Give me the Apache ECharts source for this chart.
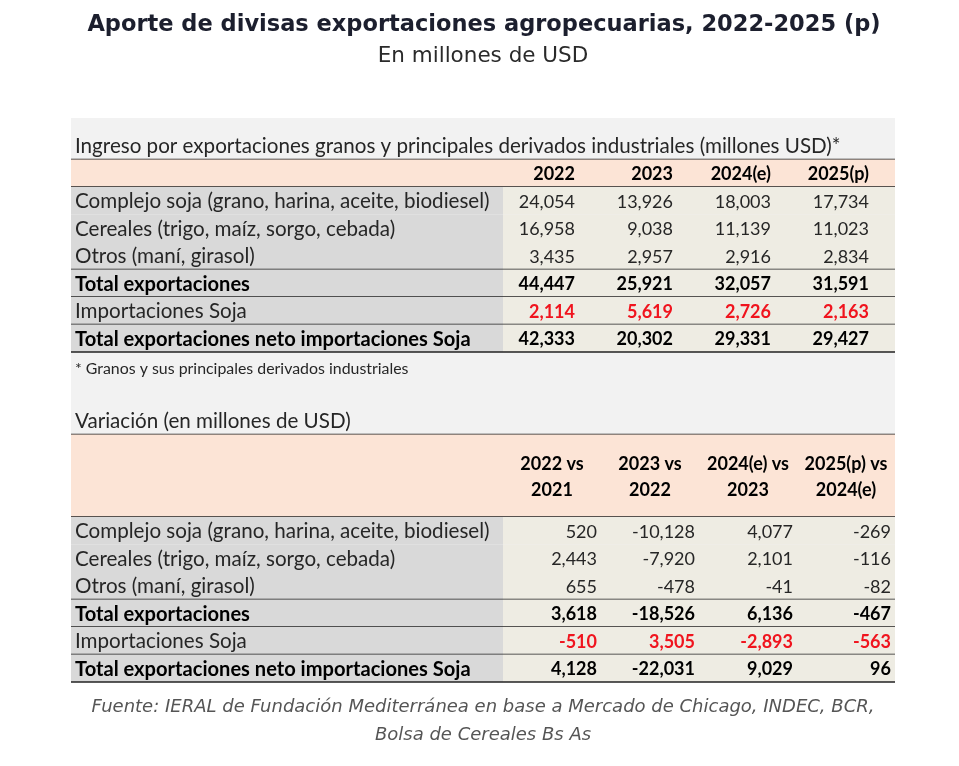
<!DOCTYPE html>
<html><head><meta charset="utf-8">
<script src="https://cdn.jsdelivr.net/npm/echarts@6/dist/echarts.min.js"></script>
<style>html,body{margin:0;padding:0;background:#fff}#c{width:959px;height:766px}</style>
</head><body><div id="c"></div>
<script>
// ---------- DATA ----------
const rowLabels = [
  'Complejo soja (grano, harina, aceite, biodiesel)',
  'Cereales (trigo, maíz, sorgo, cebada)',
  'Otros (maní, girasol)',
  'Total exportaciones',
  'Importaciones Soja',
  'Total exportaciones neto importaciones Soja'
];
const yearHeaders = ['2022', '2023', '2024(e)', '2025(p)'];
const expSoja     = [24054, 13926, 18003, 17734];
const expCereales = [16958, 9038, 11139, 11023];
const expOtros    = [3435, 2957, 2916, 2834];
const expTotal    = [44447, 25921, 32057, 31591];
const impSoja     = [2114, 5619, 2726, 2163];
const expNeto     = [42333, 20302, 29331, 29427];

const varHeadersTop = ['2022 vs', '2023 vs', '2024(e) vs', '2025(p) vs'];
const varHeadersBot = ['2021', '2022', '2023', '2024(e)'];
const varSoja     = [520, -10128, 4077, -269];
const varCereales = [2443, -7920, 2101, -116];
const varOtros    = [655, -478, -41, -82];
const varTotal    = [3618, -18526, 6136, -467];
const varImp      = [-510, 3505, -2893, -563];
const varNeto     = [4128, -22031, 9029, 96];

const titleText = 'Aporte de divisas exportaciones agropecuarias, 2022-2025 (p)';
const subtitleText = 'En millones de USD';
const table1Heading = 'Ingreso por exportaciones granos y principales derivados industriales (millones USD)*';
const footnoteText = '* Granos y sus principales derivados industriales';
const table2Heading = 'Variación (en millones de USD)';
const sourceText = 'Fuente: IERAL de Fundación Mediterránea en base a Mercado de Chicago, INDEC, BCR,\nBolsa de Cereales Bs As';

const table1Values = [expSoja, expCereales, expOtros, expTotal, impSoja, expNeto];
const table2Values = [varSoja, varCereales, varOtros, varTotal, varImp, varNeto];

// ---------- LAYOUT / STYLE ----------
const labelStyles = ['normal', 'normal', 'normal', 'bold', 'normal', 'bold'];
const valueStyles = ['normal', 'normal', 'normal', 'bold', 'red', 'bold'];
const lineBelow = [false, false, true, true, true, true];
const SLOT = { t1Head: 0, t1Hdr: 1, t1Body: 2, foot: 8, t2Head: 10, t2Hdr: 11, t2Body: 14 };
const NSLOTS = 20;
const C = {
  peach: '#fce4d6', labelBg: '#d9d9d9', valueBg: '#eeece3', line: '#222222',
  text: '#262626', bold: '#000000', red: '#f0141e'
};
const FONT = 'Lato';
const LABEL_SIZE = 20.6;
const LABEL_BOLD_SIZE = 20.1;
const VALUE_SIZE = 18;
const fmt = v => v.toLocaleString('en-US');

// ---------- CELLS ----------
const labelCells = [];
labelCells.push({ row: SLOT.t1Head, span: 1, text: table1Heading, kind: 'heading', line: true });
labelCells.push({ row: SLOT.t1Hdr, span: 1, text: '', kind: 'hdr', line: true });
rowLabels.forEach((l, i) => labelCells.push({ row: SLOT.t1Body + i, span: 1, text: l, kind: labelStyles[i], line: lineBelow[i], bg: C.labelBg }));
labelCells.push({ row: SLOT.foot, span: 1, text: footnoteText, kind: 'foot', line: false });
labelCells.push({ row: SLOT.t2Head, span: 1, text: table2Heading, kind: 'heading', line: true });
labelCells.push({ row: SLOT.t2Hdr, span: 3, text: '', kind: 'hdr', line: true });
rowLabels.forEach((l, i) => labelCells.push({ row: SLOT.t2Body + i, span: 1, text: l, kind: labelStyles[i], line: lineBelow[i], bg: C.labelBg }));

const valueCells = [];
yearHeaders.forEach((h, c) => {
  valueCells.push({ col: c, row: SLOT.t1Head, span: 1, text: '', kind: 'heading', line: true });
  valueCells.push({ col: c, row: SLOT.t1Hdr, span: 1, text: h, kind: 'hdrText', pad: 26, line: true });
  valueCells.push({ col: c, row: SLOT.t2Head, span: 1, text: '', kind: 'heading', line: true });
  valueCells.push({ col: c, row: SLOT.t2Hdr, span: 3, text: varHeadersTop[c] + '\n' + varHeadersBot[c], kind: 'hdr2', line: true });
});
table1Values.forEach((vals, r) => vals.forEach((v, c) =>
  valueCells.push({ col: c, row: SLOT.t1Body + r, span: 1, text: fmt(v), kind: valueStyles[r], pad: 26, line: lineBelow[r], bg: C.valueBg })));
table2Values.forEach((vals, r) => vals.forEach((v, c) =>
  valueCells.push({ col: c, row: SLOT.t2Body + r, span: 1, text: fmt(v), kind: valueStyles[r], pad: 4, line: lineBelow[r], bg: C.valueBg })));

function textStyleFor(kind, isLabel) {
  const fs = isLabel ? LABEL_SIZE : VALUE_SIZE;
  const fb = isLabel ? LABEL_BOLD_SIZE : VALUE_SIZE;
  switch (kind) {
    case 'bold': return { fontWeight: 'bold', fill: C.bold, fontSize: fb };
    case 'red': return { fontWeight: 'bold', fill: C.red, fontSize: fb };
    case 'hdrText': return { fontWeight: 'bold', fill: C.bold, fontSize: fb };
    case 'hdr2': return { fontWeight: 'bold', fill: C.bold, fontSize: fb, lineHeight: 26 };
    case 'foot': return { fontWeight: 'normal', fill: C.text, fontSize: 15.9 };
    default: return { fontWeight: 'normal', fill: C.text, fontSize: fs };
  }
}

function makeRender(cells, isLabel) {
  return function (params, api) {
    const cell = cells[params.dataIndex];
    const col = api.value(0), row = api.value(1);
    const center = api.coord([col, row]);
    const size = api.size([1, 1]);
    const w = size[0], rh = size[1];
    const x0 = center[0] - w / 2;
    const y0 = center[1] - rh / 2;
    const h = rh * cell.span;
    const children = [];
    let bg = cell.bg;
    if (cell.kind === 'hdr' || cell.kind === 'hdrText' || cell.kind === 'hdr2') bg = C.peach;
    if (bg) children.push({ type: 'rect', shape: { x: x0, y: y0, width: w, height: h }, style: { fill: bg } });
    if (cell.text) {
      const ts = textStyleFor(cell.kind, isLabel);
      let tx, align;
      if (isLabel) { tx = x0 + 4; align = 'left'; }
      else if (cell.kind === 'hdr2') { tx = x0 + w / 2; align = 'center'; }
      else { tx = x0 + w - cell.pad; align = 'right'; }
      let ty = y0 + h / 2 + 1;
      if (cell.kind === 'foot') ty += 2;
      children.push({ type: 'text', style: Object.assign({ text: cell.text, x: tx, y: ty, align: align, verticalAlign: 'middle', fontFamily: FONT }, ts) });
    }
    if (cell.line) children.push({ type: 'line', shape: { x1: x0, y1: y0 + h, x2: x0 + w, y2: y0 + h }, style: { stroke: C.line, lineWidth: 1.6 } });
    return { type: 'group', children: children };
  };
}

const slots = Array.from({ length: NSLOTS }, (_, i) => 'r' + i);
const chart = echarts.init(document.getElementById('c'), null, { renderer: 'canvas' });
const gridTop = 132, gridH = 550;
chart.setOption({
  backgroundColor: '#ffffff',
  animation: false,
  title: [
    { text: titleText, left: 479, top: 9, textAlign: 'center',
      textStyle: { fontFamily: 'DejaVu Sans', fontWeight: 'bold', fontSize: 22.5, color: '#1c1f2e' } },
    { text: subtitleText, left: 478, top: 40, textAlign: 'center',
      textStyle: { fontFamily: 'DejaVu Sans', fontWeight: 'normal', fontSize: 21.5, color: '#2a2a2a' } },
    { text: sourceText, left: 478, top: 688, textAlign: 'center',
      textStyle: { fontFamily: 'DejaVu Sans', fontStyle: 'italic', fontWeight: 'normal', fontSize: 18, lineHeight: 28, color: '#555555' } }
  ],
  graphic: [
    { type: 'rect', z: 0, shape: { x: 71, y: 118, width: 824, height: 564 }, style: { fill: '#f2f2f2' } }
  ],
  grid: [
    { left: 71, top: gridTop, width: 432, height: gridH },
    { left: 503, top: gridTop, width: 392, height: gridH }
  ],
  xAxis: [
    { gridIndex: 0, type: 'category', data: ['label'], show: false },
    { gridIndex: 1, type: 'category', data: yearHeaders, show: false }
  ],
  yAxis: [
    { gridIndex: 0, type: 'category', data: slots, inverse: true, show: false },
    { gridIndex: 1, type: 'category', data: slots, inverse: true, show: false }
  ],
  series: [
    { type: 'custom', xAxisIndex: 0, yAxisIndex: 0, z: 5, clip: false,
      data: labelCells.map(c => [0, c.row]), renderItem: makeRender(labelCells, true) },
    { type: 'custom', xAxisIndex: 1, yAxisIndex: 1, z: 4, clip: false,
      data: valueCells.map(c => [c.col, c.row]), renderItem: makeRender(valueCells, false) }
  ]
});
</script></body></html>
